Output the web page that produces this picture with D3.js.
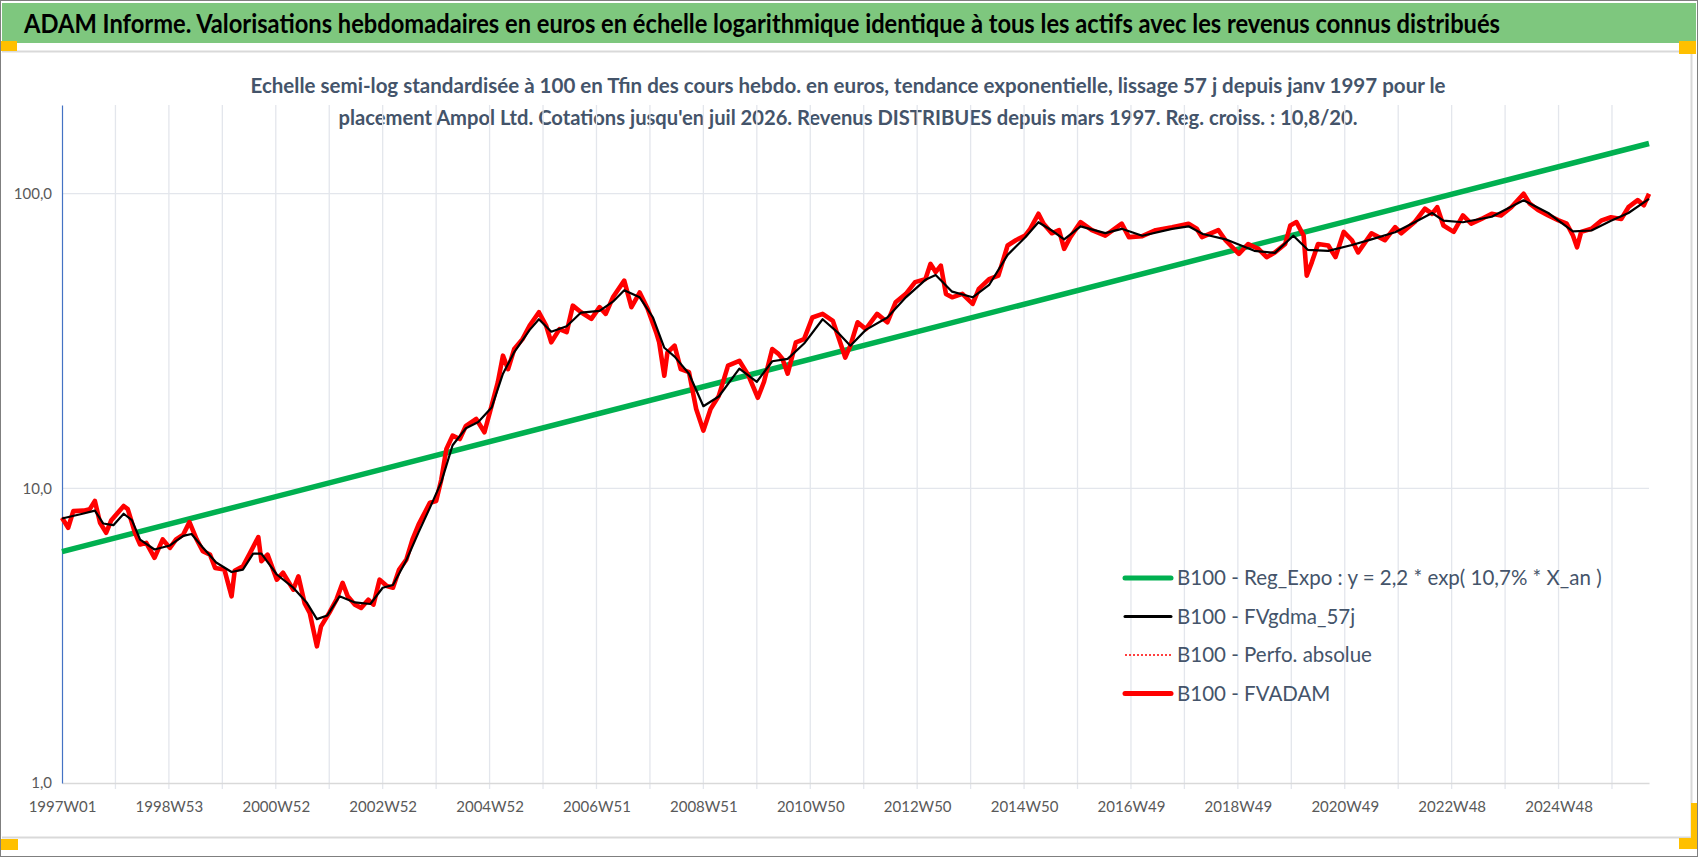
<html>
<head>
<meta charset="utf-8">
<title>ADAM Informe - Ampol Ltd.</title>
<script src="https://d3js.org/d3.v7.min.js"></script>
<style>
  body { margin: 0; background: #fff; }
  text { font-family: Lato, "Open Sans", sans-serif; }
</style>
</head>
<body>
<div id="chart"></div>
<script>
// ---- data (week index from 1997W01, value base 100) ----
fvWeeks = [0, 6, 11, 21, 27, 32, 37, 43, 48, 60, 64, 71, 76, 82, 90, 98, 105, 111, 118, 124,
  131, 137, 144, 149, 158, 165, 168, 176, 183, 191, 194, 200, 209, 215, 225, 230, 236, 241, 248, 252,
  260, 267, 273, 278, 285, 291, 298, 303, 309, 316, 322, 328, 335, 341, 347, 358, 364, 369, 374, 380,
  387, 393, 403, 411, 418, 424, 429, 434, 440, 448, 455, 464, 471, 476, 484, 491, 497, 505, 515, 523,
  529, 536, 547, 554, 562, 570, 578, 581, 586, 589, 596, 602, 610, 617, 624, 631, 639, 648, 659, 668,
  677, 683, 691, 697, 701, 706, 714, 722, 730, 740, 750, 756, 762, 767, 774, 782, 793, 803, 811, 821,
  830, 840, 845, 850, 855, 860, 866, 876, 886, 892, 902, 911, 920, 928, 937, 942, 950, 955, 963, 970,
  975, 981, 991, 1002, 1015, 1031, 1038, 1051, 1064, 1080, 1096, 1104, 1109, 1125, 1132, 1145, 1154, 1164, 1172, 1180,
  1190, 1195, 1201, 1208, 1211, 1216, 1222, 1232, 1239, 1247, 1255, 1261, 1274, 1287, 1297, 1303, 1316, 1326, 1333, 1338,
  1344, 1354, 1363, 1371, 1381, 1391, 1400, 1410, 1422, 1428, 1436, 1446, 1456, 1464, 1470, 1474, 1478, 1488, 1498, 1507,
  1517, 1524, 1533, 1539, 1544];
fvValues = [7.95, 7.35, 8.37, 8.4, 8.5, 9.06, 7.64, 7.07, 7.8, 8.71, 8.5, 7.07, 6.45, 6.53, 5.81, 6.71, 6.28, 6.71, 6.97, 7.68,
  6.71, 6.12, 5.96, 5.37, 5.3, 4.3, 5.25, 5.44, 6.04, 6.83, 5.66, 5.96, 4.9, 5.17, 4.53, 5.03, 4.08, 3.78, 2.91, 3.4,
  3.78, 4.19, 4.78, 4.3, 4.03, 3.93, 4.19, 4.03, 4.9, 4.66, 4.6, 5.3, 5.73, 6.71, 7.55, 8.94, 9.06, 10.7, 13.6, 15.1,
  14.7, 16.3, 17.2, 15.5, 19.1, 22.9, 28.2, 25.4, 29.7, 32.1, 35.7, 39.6, 35.7, 31.3, 34.7, 33.9, 41.7, 39.6, 37.6, 41.2,
  39.1, 44.5, 50.7, 41.2, 46.2, 40.5, 33.9, 31.3, 24.1, 28.9, 30.5, 25.4, 24.8, 18.6, 15.7, 18.6, 20.6, 26.1, 27.1, 24.1,
  20.3, 23.0, 29.7, 28.6, 27.5, 24.5, 31.3, 32.1, 38.0, 39.1, 37.0, 32.1, 27.8, 30.5, 36.6, 34.7, 39.1, 36.6, 42.8, 45.7,
  50.1, 51.3, 57.8, 54.2, 57.0, 45.7, 44.5, 45.7, 42.3, 47.5, 51.3, 52.7, 66.7, 69.5, 72.1, 76.0, 85.5, 79.1, 73.4, 75.2,
  65.0, 71.2, 80.1, 75.2, 72.1, 79.1, 71.2, 71.8, 75.2, 77.0, 79.1, 76.0, 71.2, 75.2, 69.5, 62.5, 67.5, 65.0, 60.9, 63.2,
  67.5, 78.0, 80.1, 72.1, 52.7, 58.6, 67.5, 66.7, 60.9, 74.2, 69.5, 63.2, 73.4, 69.5, 77.0, 73.4, 80.1, 88.9, 85.5, 90.0,
  78.0, 74.2, 84.4, 79.1, 82.1, 85.5, 84.4, 90.0, 100, 92.5, 88.0, 84.4, 81.2, 79.1, 72.1, 65.8, 74.2, 76.0, 81.2, 83.2,
  82.1, 90.0, 95.1, 91.3, 100];

gdmaWeeks = [0, 20, 32, 40, 50, 60, 68, 76, 90, 105, 118, 126, 137, 150, 165, 176, 186, 194, 209, 225,
  238, 248, 258, 270, 285, 300, 312, 322, 335, 347, 358, 369, 380, 393, 405, 418, 429, 440, 455, 464,
  476, 491, 505, 523, 536, 547, 562, 575, 586, 596, 610, 624, 639, 659, 676, 691, 706, 722, 740, 756,
  767, 782, 803, 821, 840, 850, 866, 886, 902, 920, 937, 950, 963, 975, 991, 1015, 1031, 1051, 1080, 1096,
  1110, 1132, 1160, 1180, 1198, 1212, 1232, 1255, 1274, 1297, 1316, 1333, 1344, 1363, 1391, 1422, 1446, 1470, 1488, 1507,
  1524, 1544];
gdmaValues = [7.9, 8.2, 8.4, 7.6, 7.5, 8.2, 7.8, 6.7, 6.2, 6.4, 6.9, 7.0, 6.3, 5.6, 5.2, 5.3, 6.0, 6.0, 5.1, 4.6,
  4.1, 3.6, 3.7, 4.3, 4.1, 4.05, 4.6, 4.7, 5.7, 7.1, 8.6, 10.5, 14.0, 16.0, 16.8, 18.8, 24.5, 29.0, 34.5, 37.5,
  34.0, 35.5, 39.5, 40.0, 43.0, 47.0, 44.5, 38.0, 30.0, 28.0, 24.5, 19.0, 20.5, 25.5, 23.0, 27.0, 27.5, 31.0, 37.5, 33.5,
  30.5, 34.5, 38.0, 44.5, 51.0, 53.0, 46.5, 44.5, 49.0, 62.0, 71.0, 80.0, 75.0, 70.0, 77.5, 73.5, 76.0, 72.0, 76.0, 77.5,
  73.0, 70.0, 64.0, 63.0, 72.0, 64.5, 64.0, 67.0, 70.0, 74.0, 80.0, 86.0, 81.0, 80.0, 83.5, 95.0, 86.0, 74.5, 75.0, 81.0,
  86.0, 96.0];

regWeeks = [0, 1544];
regValues = [6.1, 148];

tickWeeks = [0, 104, 208, 312, 416, 520, 624, 728, 832, 936, 1040, 1144, 1248, 1352, 1456];
tickLabels = ["1997W01", "1998W53", "2000W52", "2002W52", "2004W52", "2006W51", "2008W51", "2010W50",
  "2012W50", "2014W50", "2016W49", "2018W49", "2020W49", "2022W48", "2024W48"];
gridWeeks = d3.range(52, 1544, 52);
yTicks = [1, 10, 100];

legendLabels = ["B100 - Reg_Expo : y = 2,2 * exp( 10,7% *  X_an )", "B100 - FVgdma_57j",
  "B100 - Perfo. absolue", "B100 - FVADAM"];

titleText = "ADAM Informe. Valorisations hebdomadaires en euros en échelle logarithmique identique à tous les actifs avec les revenus connus distribués";
subLines = ["Echelle semi-log standardisée à 100 en Tfin des cours hebdo. en euros, tendance exponentielle, lissage 57 j depuis janv 1997 pour le",
  "placement Ampol Ltd. Cotations jusqu'en juil 2026. Revenus DISTRIBUES depuis mars 1997. Reg. croiss. : 10,8/20."];

W = 1698; H = 857;
plot = { left: 62, right: 1649, top: 105, bottom: 783 };

svg = d3.select("#chart").append("svg")
  .attr("width", W).attr("height", H)
  .style("display", "block");

svg.append("rect").attr("x", 0.5).attr("y", 0.5).attr("width", W - 1).attr("height", H - 1)
  .attr("fill", "#fff").attr("stroke", "#7f7f7f");

// title bar
svg.append("rect").attr("x", 2).attr("y", 3).attr("width", 1694).attr("height", 40).attr("fill", "#7ec77e");
svg.append("text").attr("x", 24).attr("y", 33)
  .attr("font-size", 26).attr("font-weight", "bold").attr("fill", "#000")
  .attr("textLength", 1476).attr("lengthAdjust", "spacingAndGlyphs")
  .text(titleText);

// chart area frame
svg.append("line").attr("x1", 2).attr("x2", 1692).attr("y1", 51.5).attr("y2", 51.5).attr("stroke", "#d9d9d9").attr("stroke-width", 2);
svg.append("line").attr("x1", 2).attr("x2", 1692).attr("y1", 837.5).attr("y2", 837.5).attr("stroke", "#d9d9d9").attr("stroke-width", 2);
svg.append("line").attr("x1", 1691.5).attr("x2", 1691.5).attr("y1", 51).attr("y2", 838).attr("stroke", "#d9d9d9").attr("stroke-width", 2);

// selection handles
handles = [[1, 41, 16, 10], [1679, 41, 17, 13], [1, 839, 17, 11], [1679, 838, 18, 11], [1691, 803, 6, 36]];
svg.selectAll("rect.handle").data(handles).enter().append("rect")
  .attr("class", "handle")
  .attr("x", d => d[0]).attr("y", d => d[1]).attr("width", d => d[2]).attr("height", d => d[3])
  .attr("fill", "#ffc000");

// subtitle
svg.selectAll("text.sub").data(subLines).enter().append("text")
  .attr("class", "sub")
  .attr("x", 848).attr("y", (d, i) => 93 + i * 32)
  .attr("text-anchor", "middle")
  .attr("font-size", 20).attr("font-weight", "bold").attr("fill", "#44546a")
  .attr("textLength", (d, i) => i == 0 ? 1195 : 1019).attr("lengthAdjust", "spacingAndGlyphs")
  .text(d => d);

x = d3.scaleLinear().domain([0, 1544]).range([plot.left, plot.right]);
y = d3.scaleLog().domain([1, 200]).range([plot.bottom, plot.top]);

// gridlines
svg.append("g").selectAll("line").data(gridWeeks).enter().append("line")
  .attr("x1", d => x(d)).attr("x2", d => x(d))
  .attr("y1", plot.top).attr("y2", plot.bottom + 6)
  .attr("stroke", "#e3e6ec").attr("stroke-width", 1.3);
svg.append("g").selectAll("line").data([10, 100]).enter().append("line")
  .attr("x1", plot.left).attr("x2", plot.right)
  .attr("y1", d => y(d)).attr("y2", d => y(d))
  .attr("stroke", "#e3e6ec").attr("stroke-width", 1.3);

// x axis
xAxis = svg.append("g")
  .attr("transform", `translate(0,${plot.bottom})`)
  .call(d3.axisBottom(x).tickValues(tickWeeks).tickSize(0).tickPadding(18)
    .tickFormat((d, i) => tickLabels[i]));
xAxis.select(".domain").attr("stroke", "#d9d9d9").attr("stroke-width", 1.5);
xAxis.selectAll("text").attr("font-size", 15).attr("fill", "#595959")
  .attr("font-family", "Lato, sans-serif");

// y axis
yAxis = svg.append("g")
  .attr("transform", `translate(${plot.left},0)`)
  .call(d3.axisLeft(y).tickValues(yTicks).tickSize(0).tickPadding(10)
    .tickFormat(d => d3.format(".1f")(d).replace(".", ",")));
yAxis.select(".domain").attr("stroke", "#4472c4").attr("stroke-width", 1.2);
yAxis.selectAll("text").attr("font-size", 15).attr("fill", "#595959")
  .attr("font-family", "Lato, sans-serif");

line = d3.line().x(d => x(d[0])).y(d => y(d[1]));

svg.append("path").datum(d3.zip(regWeeks, regValues))
  .attr("fill", "none").attr("stroke", "#00b050").attr("stroke-width", 5.5)
  .attr("d", line);

svg.append("path").datum(d3.zip(fvWeeks, fvValues))
  .attr("fill", "none").attr("stroke", "#ff0000").attr("stroke-width", 1.2)
  .attr("stroke-dasharray", "2,2")
  .attr("d", line);

svg.append("path").datum(d3.zip(fvWeeks, fvValues))
  .attr("fill", "none").attr("stroke", "#ff0000").attr("stroke-width", 4.6)
  .attr("stroke-linejoin", "round")
  .attr("d", line);

svg.append("path").datum(d3.zip(gdmaWeeks, gdmaValues))
  .attr("fill", "none").attr("stroke", "#000").attr("stroke-width", 2.2)
  .attr("stroke-linejoin", "round")
  .attr("d", line);

// legend
legendStyles = [
  { color: "#00b050", width: 5, dash: null },
  { color: "#000", width: 3, dash: null },
  { color: "#ff0000", width: 1.5, dash: "2,2" },
  { color: "#ff0000", width: 5, dash: null }
];
legend = svg.append("g").attr("transform", "translate(1125,578)");
legendLabels.forEach(function(label, i) {
  row = legend.append("g").attr("transform", `translate(0,${i * 38.5})`);
  row.append("line").attr("x1", 0).attr("x2", 46).attr("y1", 0).attr("y2", 0)
    .attr("stroke", legendStyles[i].color).attr("stroke-width", legendStyles[i].width)
    .attr("stroke-linecap", legendStyles[i].dash ? "butt" : "round")
    .attr("stroke-dasharray", legendStyles[i].dash);
  row.append("text").attr("x", 52).attr("y", 7).attr("font-size", 20.5).attr("fill", "#44546a")
    .text(label);
});
</script>
</body>
</html>
